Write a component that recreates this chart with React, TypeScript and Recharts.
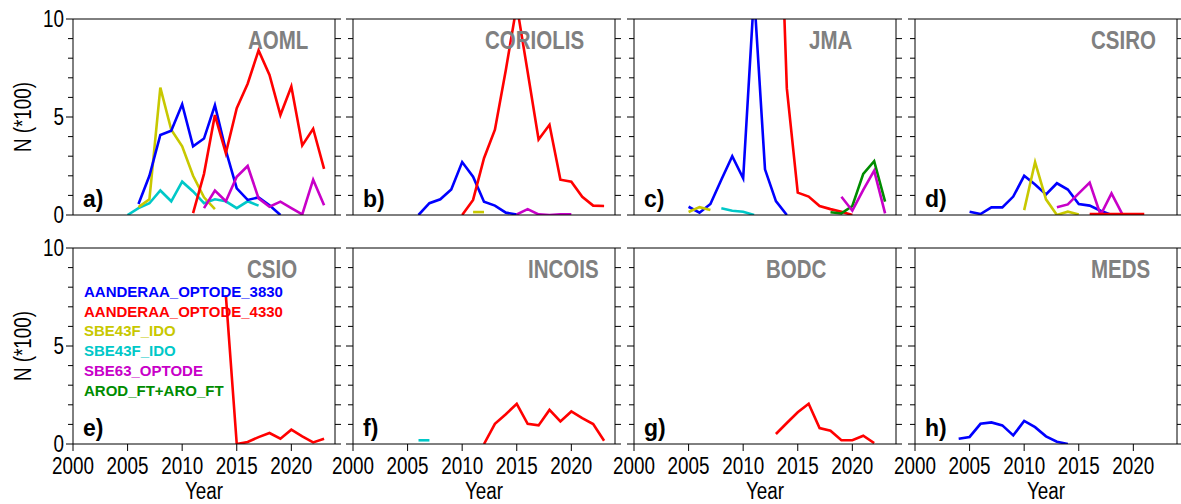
import React from 'react';
import { LineChart, Line, XAxis, YAxis } from 'recharts';

const _ = null;

const years = [2004, 2005, 2006, 2007, 2008, 2009, 2010, 2011, 2012, 2013, 2014, 2015, 2016, 2017, 2018, 2019, 2020, 2021, 2022, 2023];
const xTicks = [2000, 2005, 2010, 2015, 2020];
const yTicks = [0, 1, 2, 3, 4, 5, 6, 7, 8, 9, 10];

// a) AOML                2004 2005 2006  2007  2008  2009  2010  2011  2012  2013  2014  2015  2016  2017  2018  2019  2020  2021  2022  2023
const aoml3830 =        [_,   _,   0.56, 2.0,  4.08, 4.3,  5.65, 3.5,  3.9,  5.6,  3.3,  1.36, 0.77, 0.9,  0.5,  0,    _,    _,    _,    _];
const aoml4330 =        [_,   _,   _,    _,    _,    _,    _,    0.1,  2.1,  5.1,  3.15, 5.45, 6.7,  8.4,  7.15, 5.1,  6.55, 3.55, 4.4,  2.35];
const aomlSbe43y =      [_,   _,   0.4,  0.8,  6.5,  4.35, 3.5,  2.0,  0.9,  0.3,  _,    _,    _,    _,    _,    _,    _,    _,    _,    _];
const aomlSbe43c =      [_,   0,   0.35, 0.6,  1.25, 0.7,  1.7,  1.2,  0.6,  0.8,  0.7,  0.35, 0.7,  0.48, _,    _,    _,    _,    _,    _];
const aomlSbe63 =       [_,   _,   _,    _,    _,    _,    _,    _,    0.35, 1.25, 0.7,  1.95, 2.5,  0.85, 0.42, 0.68, 0.35, 0.03, 1.8,  0.5];

// b) CORIOLIS
const cor3830 =         [_,   _,   0,    0.6,  0.8,  1.3,  2.7,  1.95, 0.68, 0.48, 0.12, 0.03, _,    _,    _,    _,    _,    _,    _,    _];
const cor4330 =         [_,   _,   _,    _,    _,    _,    0,    0.77, 2.9,  4.35, 7.4,  10.7, 7.3,  3.85, 4.6,  1.8,  1.7,  0.93, 0.48, 0.46];
const corSbe43y =       [_,   _,   _,    _,    _,    _,    _,    0.15, 0.15, _,    _,    _,    _,    _,    _,    _,    _,    _,    _,    _];
const corSbe63 =        [_,   _,   _,    _,    _,    _,    _,    _,    _,    _,    _,    0.03, 0.3,  0.03, 0,    0.03, 0.03, _,    _,    _];

// c) JMA
const jma3830 =         [_,   0.42, 0.12, 0.56, 1.8, 3.0,  1.87, 11.3, 2.33, 0.71, 0,    _,    _,    _,    _,    _,    _,    _,    _,    _];
const jma4330 =         [_,   _,   _,    _,    _,    _,    _,    _,    _,    22.6, 6.46, 1.14, 0.94, 0.46, 0.3,  0.17, 0,    _,    _,    _];
const jmaSbe43y =       [_,   0.15, 0.4, 0.25, _,    _,    _,    _,    _,    _,    _,    _,    _,    _,    _,    _,    _,    _,    _,    _];
const jmaSbe43c =       [_,   _,   _,    _,    0.34, 0.22, 0.17, 0,    _,    _,    _,    _,    _,    _,    _,    _,    _,    _,    _,    _];
const jmaSbe63 =        [_,   _,   _,    _,    _,    _,    _,    _,    _,    _,    _,    _,    _,    _,    _,    0.93, 0.22, 1.28, 2.26, 0.08];
const jmaArod =         [_,   _,   _,    _,    _,    _,    _,    _,    _,    _,    _,    _,    _,    _,    0.14, 0.08, 0.46, 2.1,  2.75, 0.68];

// d) CSIRO
const csiro3830 =       [_,   0.17, 0.05, 0.39, 0.39, 0.94, 2.0, 1.56, 1.05, 1.62, 1.3,  0.56, 0.48, 0.22, 0,    0,    _,    _,    _,    _];
const csiro4330 =       [_,   _,   _,    _,    _,    _,    _,    _,    _,    _,    _,    _,    0.05, 0.05, 0.05, 0.05, 0.05, 0.05, _,    _];
const csiroSbe43y =     [_,   _,   _,    _,    _,    _,    0.25, 2.7,  0.8,  0,    0.17, 0.03, _,    _,    _,    _,    _,    _,    _,    _];
const csiroSbe63 =      [_,   _,   _,    _,    _,    _,    _,    _,    _,    0.39, 0.54, 1.1,  1.65, 0,    1.1,  0.03, _,    _,    _,    _];

// e) CSIO
const csio4330 =        [_,   _,   _,    _,    _,    _,    _,    _,    _,    _,    7.6,  0,    0.1,  0.35, 0.56, 0.27, 0.73, 0.39, 0.08, 0.27];

// f) INCOIS
const incois4330 =      [_,   _,   _,    _,    _,    _,    _,    _,    0,    1.03, 1.52, 2.05, 1.03, 0.95, 1.74, 1.15, 1.66, 1.32, 1.02, 0.17];
const incoisSbe43c =    [_,   _,   0.19, 0.19, _,    _,    _,    _,    _,    _,    _,    _,    _,    _,    _,    _,    _,    _,    _,    _];

// g) BODC
const bodc4330 =        [_,   _,   _,    _,    _,    _,    _,    _,    _,    0.51, 1.07, 1.62, 2.05, 0.81, 0.68, 0.19, 0.19, 0.42, 0.05, _];

// h) MEDS
const meds3830 =        [0.27, 0.36, 1.03, 1.1, 0.95, 0.44, 1.18, 0.86, 0.39, 0.12, 0,   _,    _,    _,    _,    _,    _,    _,    _,    _];

const C3830 = '#0000ff';
const C4330 = '#ff0000';
const CSBE43Y = '#c8c800';
const CSBE43C = '#00c8c8';
const CSBE63 = '#c800c8';
const CAROD = '#008c00';

const legendNames = ['AANDERAA_OPTODE_3830', 'AANDERAA_OPTODE_4330', 'SBE43F_IDO', 'SBE43F_IDO', 'SBE63_OPTODE', 'AROD_FT+ARO_FT'];
const legendColors = [C3830, C4330, CSBE43Y, CSBE43C, CSBE63, CAROD];

const panels = [
  { name: 'AOML', letter: 'a)', titleDx: 175, series: [[aomlSbe43c, CSBE43C], [aomlSbe43y, CSBE43Y], [aoml3830, C3830], [aoml4330, C4330], [aomlSbe63, CSBE63]] },
  { name: 'CORIOLIS', letter: 'b)', titleDx: 132, series: [[cor3830, C3830], [cor4330, C4330], [corSbe43y, CSBE43Y], [corSbe63, CSBE63]] },
  { name: 'JMA', letter: 'c)', titleDx: 175, series: [[jma3830, C3830], [jmaSbe43y, CSBE43Y], [jmaSbe43c, CSBE43C], [jma4330, C4330], [jmaArod, CAROD], [jmaSbe63, CSBE63]] },
  { name: 'CSIRO', letter: 'd)', titleDx: 176, series: [[csiro3830, C3830], [csiroSbe43y, CSBE43Y], [csiroSbe63, CSBE63], [csiro4330, C4330]] },
  { name: 'CSIO', letter: 'e)', titleDx: 174, series: [[csio4330, C4330]] },
  { name: 'INCOIS', letter: 'f)', titleDx: 175, series: [[incoisSbe43c, CSBE43C], [incois4330, C4330]] },
  { name: 'BODC', letter: 'g)', titleDx: 132, series: [[bodc4330, C4330]] },
  { name: 'MEDS', letter: 'h)', titleDx: 176, series: [[meds3830, C3830]] },
];

const SANS = "'Liberation Sans', Arial, sans-serif";
const SQUEEZE = 0.82; // Helvetica Narrow look

const colX = [73, 353, 634, 915];
const rowY = [19, 248];
const plotW = 262;
const plotH = 196;
const padL = 60;
const padT = 20;
const padR = 20;
const padB = 55;

// narrow text: Liberation Sans squeezed horizontally
function NText({ x, y, size, anchor = 'start', weight = 'normal', fill = '#000', dy, rotate = 0, children }: any) {
  const rot = rotate ? ` rotate(${rotate})` : '';
  return (
    <g transform={`translate(${x},${y})${rot} scale(${SQUEEZE},1)`}>
      <text x={0} y={0} dy={dy} textAnchor={anchor} fontSize={size} fontWeight={weight} fontFamily={SANS} fill={fill}>
        {children}
      </text>
    </g>
  );
}

const YTick = (props: any) => {
  const { x, y, payload, side, showLabel } = props;
  const v = payload.value;
  const major = v % 5 === 0;
  const dir = side === 'left' ? -1 : 1;
  const len = side === 'left' ? (major ? 7 : 5) : 6;
  return (
    <g>
      <line x1={x} x2={x + dir * len} y1={y} y2={y} stroke="#000" strokeWidth={1} />
      {showLabel && major && (
        <NText x={x - 9} y={y} dy="0.34em" anchor="end" size={23}>
          {v}
        </NText>
      )}
    </g>
  );
};

const XTick = (props: any) => {
  const { x, y, payload } = props;
  return (
    <NText x={x} y={y} dy="0.71em" anchor="middle" size={23}>
      {payload.value}
    </NText>
  );
};

function Panel({ idx }: { idx: number }) {
  const p = panels[idx];
  const col = idx % 4;
  const row = Math.floor(idx / 4);
  const data = years.map((yr, i) => {
    const d: any = { year: yr };
    p.series.forEach((s, k) => {
      d['s' + k] = (s[0] as (number | null)[])[i];
    });
    return d;
  });
  return (
    <div style={{ position: 'absolute', left: colX[col] - padL, top: rowY[row] - padT }}>
      <LineChart width={padL + plotW + padR} height={padT + plotH + padB} data={data} margin={{ top: 0, right: 0, bottom: 0, left: 0 }}>
        <XAxis
          xAxisId="b"
          type="number"
          dataKey="year"
          domain={[2000, 2024]}
          ticks={xTicks}
          interval={0}
          allowDataOverflow
          height={padB}
          tickSize={7}
          tickMargin={7}
          stroke="#000"
          tickLine={{ stroke: '#000' }}
          tick={row === 1 ? (tp: any) => <XTick {...tp} /> : false}
        />
        <XAxis
          xAxisId="t"
          orientation="top"
          type="number"
          dataKey="year"
          domain={[2000, 2024]}
          ticks={xTicks}
          interval={0}
          allowDataOverflow
          height={padT}
          tickSize={7}
          stroke="#000"
          tick={false}
        />
        <YAxis
          yAxisId="l"
          type="number"
          domain={[0, 10]}
          ticks={yTicks}
          interval={0}
          allowDataOverflow
          width={padL}
          tickSize={0}
          tickMargin={0}
          stroke="#000"
          tick={(tp: any) => <YTick {...tp} side="left" showLabel={col === 0} />}
        />
        <YAxis
          yAxisId="r"
          orientation="right"
          type="number"
          domain={[0, 10]}
          ticks={yTicks}
          interval={0}
          allowDataOverflow
          width={padR}
          tickSize={0}
          tickMargin={0}
          stroke="#000"
          tick={(tp: any) => <YTick {...tp} side="right" showLabel={false} />}
        />
        {p.series.map((s, k) => (
          <Line
            key={k}
            xAxisId="b"
            yAxisId="l"
            type="linear"
            dataKey={'s' + k}
            stroke={s[1] as string}
            strokeWidth={2.6}
            dot={false}
            activeDot={false}
            connectNulls={false}
            isAnimationActive={false}
          />
        ))}
      </LineChart>
    </div>
  );
}

export default function App() {
  return (
    <div style={{ position: 'absolute', left: 0, top: 0, width: 1181, height: 504, overflow: 'hidden', background: '#fff' }}>
      {panels.map((_p, i) => (
        <Panel key={i} idx={i} />
      ))}
      <svg width={1181} height={504} style={{ position: 'absolute', left: 0, top: 0, pointerEvents: 'none' }}>
        {panels.map((p, i) => {
          const col = i % 4;
          const row = Math.floor(i / 4);
          const x0 = colX[col];
          const y0 = rowY[row];
          return (
            <g key={i}>
              <NText x={x0 + p.titleDx} y={y0 + 30} size={25} weight="bold" fill="#808080">
                {p.name}
              </NText>
              <text x={x0 + 10} y={y0 + plotH - 8} fontSize={23} fontWeight="bold" fontFamily={SANS} fill="#000">
                {p.letter}
              </text>
              {row === 1 && (
                <NText x={x0 + plotW / 2} y={499} size={23} anchor="middle">
                  Year
                </NText>
              )}
            </g>
          );
        })}
        {rowY.map((y0, r) => (
          <NText key={r} x={23} y={y0 + plotH / 2} rotate={-90} dy="0.36em" size={23} anchor="middle">
            N (*100)
          </NText>
        ))}
        {legendNames.map((n, i) => (
          <text key={i} x={84} y={297 + i * 19.7} fontSize={15} fontWeight="bold" fontFamily={SANS} fill={legendColors[i]}>
            {n}
          </text>
        ))}
      </svg>
    </div>
  );
}
